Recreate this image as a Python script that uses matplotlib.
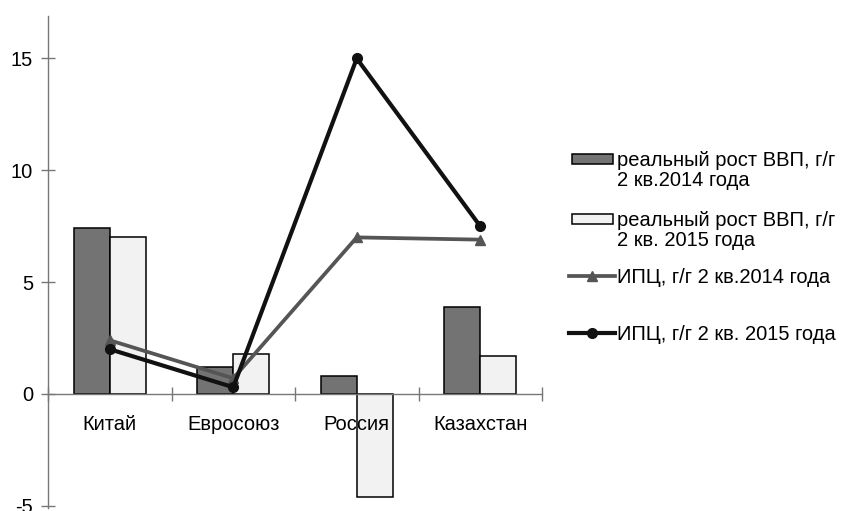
import matplotlib
matplotlib.use("Agg")
import numpy as np
from matplotlib import pyplot as plt
from matplotlib.patches import Rectangle
from matplotlib.lines import Line2D

plt.rcParams['font.family'] = ['Liberation Sans', 'DejaVu Sans']
plt.rcParams['font.size'] = 14.5
plt.rcParams['axes.unicode_minus'] = False

# data
countries = ['Китай', 'Евросоюз', 'Россия', 'Казахстан']
gdp_2014 = [7.4, 1.2, 0.8, 3.9]
gdp_2015 = [7.0, 1.8, -4.6, 1.7]
cpi_2014 = [2.4, 0.7, 7.0, 6.9]
cpi_2015 = [2.0, 0.3, 15.0, 7.5]
labels = ['реальный рост ВВП, г/г\n2 кв.2014 года',
          'реальный рост ВВП, г/г\n2 кв. 2015 года',
          'ИПЦ, г/г 2 кв.2014 года',
          'ИПЦ, г/г 2 кв. 2015 года']

W, H = 847, 511
fig = plt.figure(figsize=(W / 100, H / 100), dpi=100)
ax = fig.add_axes([48 / W, 3 / H, 494 / W, 492 / H])
ax.set_axisbelow(False)

x = np.arange(len(countries))
bw = 0.29
ax.bar(x - bw / 2, gdp_2014, bw, color='#737373', edgecolor='black', linewidth=1.1, zorder=2)
ax.bar(x + bw / 2, gdp_2015, bw, color='#f2f2f2', edgecolor='black', linewidth=1.1, zorder=2)
ax.plot(x, cpi_2014, '-^', color='#555555', lw=2.7, ms=6.5, zorder=3)
ax.plot(x, cpi_2015, '-o', color='#111111', lw=3.0, ms=7, zorder=4)

ax.set_xlim(-0.5, 3.5)
ax.set_ylim(-5.1, 16.9)
for s in ['top', 'right']:
    ax.spines[s].set_visible(False)
ax.spines['bottom'].set_position(('data', 0))
for s in ['left', 'bottom']:
    ax.spines[s].set_color('#777777')
    ax.spines[s].set_linewidth(1.0)

ax.set_yticks([-5, 0, 5, 10, 15])
ax.set_xticks([-0.5, 0.5, 1.5, 2.5, 3.5])
ax.set_xticklabels([])
ax.set_xticks(x, minor=True)
ax.set_xticklabels(countries, minor=True)
ax.tick_params(axis='both', which='major', direction='inout', length=9.5, width=1.0, color='#777777')
ax.tick_params(axis='y', pad=6)
ax.tick_params(axis='x', which='minor', length=0, pad=15)

# legend drawn by hand so the handles line up with the first text line
tf = fig.transFigure
def fx(px):
    return px / W
def fy(py):
    return 1 - py / H

for ypx, fc in [(159, '#737373'), (219, '#f2f2f2')]:
    fig.add_artist(Rectangle((fx(572), fy(ypx + 5)), fx(613) - fx(572), 10 / H,
                             transform=tf, facecolor=fc, edgecolor='black', linewidth=1.1))
for ypx, c, m, lw, ms in [(276, '#555555', '^', 2.7, 6.5), (333, '#111111', 'o', 3.0, 7)]:
    fig.add_artist(Line2D([fx(569), fx(615)], [fy(ypx), fy(ypx)], transform=tf,
                          color=c, lw=lw))
    fig.add_artist(Line2D([fx(592)], [fy(ypx)], transform=tf, color=c, marker=m, ms=ms))

for ypx, lab in zip([159, 219, 276, 333], labels):
    fig.text(fx(617), fy(ypx - 8), lab, va='top', ha='left', linespacing=1.05)

fig.savefig('out.png', dpi=100)
